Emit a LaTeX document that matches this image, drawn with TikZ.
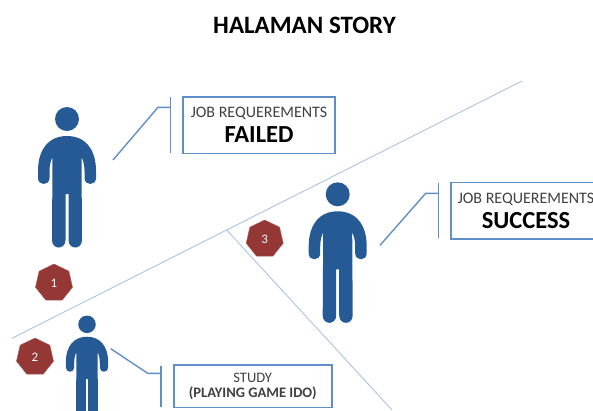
\documentclass[tikz,border=0pt]{standalone}
\usepackage{fontspec}
\setmainfont{Carlito}
\usetikzlibrary{shapes.geometric}
\definecolor{personblue}{HTML}{265A94}
\definecolor{calloutblue}{HTML}{5F8FC8}
\definecolor{thinblue}{HTML}{A9C3E2}
\definecolor{badgered}{HTML}{953735}
\definecolor{labelgrey}{HTML}{404040}
\tikzset{
  personfig/.pic={
    \fill[personblue] (0,0) circle (12);
    \fill[personblue] (0,17)
      .. controls (-18,17) and (-29,30) .. (-29,52)
      -- (-29,59) .. controls (-29,67) and (-17.5,67) .. (-17.5,59)
      -- (-17.5,52) .. controls (-17.5,46) and (-16,41) .. (-14.5,38)
      -- (-15,121) .. controls (-15,131) and (-1.5,131) .. (-1.5,121)
      -- (-1.5,75) -- (1.5,75)
      -- (1.5,121) .. controls (1.5,131) and (15,131) .. (15,121)
      -- (14.5,38) .. controls (16,41) and (17.5,46) .. (17.5,52)
      -- (17.5,59) .. controls (17.5,67) and (29,67) .. (29,59)
      -- (29,52) .. controls (29,30) and (18,17) .. (0,17) -- cycle;
  },
  badge/.style={regular polygon, regular polygon sides=7, fill=badgered, draw=badgered!80, line width=0.4pt,
    minimum size=38pt, inner sep=0pt, text=white, font=\fontsize{13}{13}\selectfont},
  infobox/.style={draw=calloutblue, line width=1.6pt, fill=white, align=center, inner sep=0pt, text=labelgrey},
  calloutline/.style={draw=calloutblue, line width=1.4pt},
  divider/.style={draw=thinblue, line width=0.9pt}
}
\newcommand{\boldlabel}[2]{{\fontsize{#1}{#1}\selectfont\bfseries\color{black}#2}}
\begin{document}
\begin{tikzpicture}[x=1pt,y=-1pt]
\useasboundingbox (0,0) rectangle (593,410);
\clip (0,0) rectangle (593,410);
\node[font=\fontsize{25}{27}\selectfont\bfseries, text=black] (title) at (304.5,25) {HALAMAN STORY};
% dividers
\coordinate (dA) at (12,338.3);
\coordinate (dB) at (522,81);
\coordinate (dC) at (226.7,230);
\coordinate (dD) at (392,410);
\draw[divider] (dA) -- (dB);
\draw[divider] (dC) -- (dD);
% people
\pic at (67,119) {personfig};
\pic at (337.7,194.3) {personfig};
\pic[scale=0.73] at (87,324.3) {personfig};
% badges
\node[badge] (b1) at (54,283) {1};
\node[badge] (b2) at (35,357) {2};
\node[badge] (b3) at (264.7,239) {3};
% boxes
\node[infobox, minimum width=152pt, minimum height=56.6pt] (boxA) at (259,125)
  {\fontsize{16}{19}\selectfont JOB REQUEREMENTS\\[6pt]\boldlabel{24.5}{FAILED}};
\node[infobox, minimum width=150.6pt, minimum height=56.3pt] (boxC) at (526,210.8)
  {\fontsize{16}{19}\selectfont JOB REQUEREMENTS\\[6pt]\boldlabel{24.5}{SUCCESS}};
\node[infobox, minimum width=158pt, minimum height=42.3pt] (boxB) at (252.7,386.2)
  {\fontsize{14.5}{16}\selectfont STUDY\\[3pt]\fontsize{14.5}{16}\selectfont\bfseries (PLAYING GAME IDO)};
% callouts
\coordinate (a0) at (113,160); \coordinate (a1) at (158,107.3); \coordinate (a2) at (170.7,107.3);
\coordinate (a3) at (170.7,97.3); \coordinate (a4) at (170.7,152.7);
\draw[calloutline] (a0) -- (a1) -- (a2);
\draw[calloutline] (a3) -- (a4);
\coordinate (c0) at (380,245.3); \coordinate (c1) at (425.7,193.3); \coordinate (c2) at (438.3,193.3);
\coordinate (c3) at (438.3,183.3); \coordinate (c4) at (438.3,238.3);
\draw[calloutline] (c0) -- (c1) -- (c2);
\draw[calloutline] (c3) -- (c4);
\coordinate (s0) at (110.7,348.7); \coordinate (s1) at (147.7,373.3); \coordinate (s2) at (161,373.3);
\coordinate (s3) at (161,365.7); \coordinate (s4) at (161,406.7);
\draw[calloutline] (s0) -- (s1) -- (s2);
\draw[calloutline] (s3) -- (s4);
\end{tikzpicture}
\end{document}
